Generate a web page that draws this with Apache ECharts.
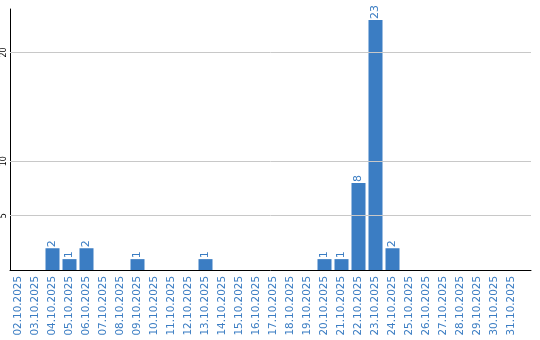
<!DOCTYPE html>
<html>
<head>
<meta charset="utf-8">
<script src="https://cdn.jsdelivr.net/npm/echarts@6/dist/echarts.min.js"></script>
<style>html,body{margin:0;padding:0;background:#fff;}#c{width:540px;height:340px;}</style>
</head>
<body>
<div id="c"></div>
<script>
const categories = ['02.10.2025','03.10.2025','04.10.2025','05.10.2025','06.10.2025','07.10.2025','08.10.2025','09.10.2025','10.10.2025','11.10.2025','12.10.2025','13.10.2025','14.10.2025','15.10.2025','16.10.2025','17.10.2025','18.10.2025','19.10.2025','20.10.2025','21.10.2025','22.10.2025','23.10.2025','24.10.2025','25.10.2025','26.10.2025','27.10.2025','28.10.2025','29.10.2025','30.10.2025','31.10.2025'];
const values = [0,0,2,1,2,0,0,1,0,0,0,1,0,0,0,0,0,0,1,1,8,23,2,0,0,0,0,0,0,0];
const yTickLabels = [5,10,20];
const yMax = 24;

const blue = '#3b7dc3';
const font = 'DejaVu Sans';
const chart = echarts.init(document.getElementById('c'), null, {renderer:'canvas'});
chart.setOption({
  animation: false,
  grid: [
    {left: 10, right: 9, top: 9, bottom: 70, containLabel: false},
    {left: 10, right: 20, top: 9, bottom: 70, containLabel: false}
  ],
  xAxis: [
    {gridIndex: 0, type: 'value', min: 0, max: 1, axisLine: {show: true, onZero: false, lineStyle: {color: '#000', width: 1}}, axisTick: {show: false}, axisLabel: {show: false}, splitLine: {show: false}},
    {gridIndex: 1, type: 'category', data: categories, axisLine: {show: false}, axisTick: {show: false},
      axisLabel: {interval: 0, rotate: 90, color: blue, fontFamily: font, fontSize: 10.4, margin: 6}}
  ],
  yAxis: [
    {gridIndex: 0, type: 'value', min: 0, max: yMax, interval: 5,
      axisLine: {show: true, onZero: false, lineStyle: {color: '#000', width: 1}}, axisTick: {show: false}, splitLine: {show: false},
      axisLabel: {rotate: 90, fontSize: 8, fontFamily: font, color: '#000', margin: 2,
        formatter: v => (yTickLabels.indexOf(v) >= 0 ? String(v) : '')}},
    {gridIndex: 1, type: 'value', min: 0, max: yMax, show: false}
  ],
  series: [
    {type: 'line', xAxisIndex: 0, yAxisIndex: 0, data: [], silent: true,
      markLine: {silent: true, symbol: 'none', label: {show: false},
        lineStyle: {color: '#c8c8c8', width: 1, type: 'solid'},
        data: yTickLabels.map(v => ({yAxis: v}))}},
    {type: 'bar', xAxisIndex: 1, yAxisIndex: 1, data: values.map(v => (v === 0 ? null : v)), barWidth: 14,
      itemStyle: {color: blue},
      label: {show: true, position: 'top', rotate: 90, align: 'left', verticalAlign: 'middle', distance: 1,
        color: blue, fontFamily: font, fontSize: 11}}
  ]
});
</script>
</body>
</html>
